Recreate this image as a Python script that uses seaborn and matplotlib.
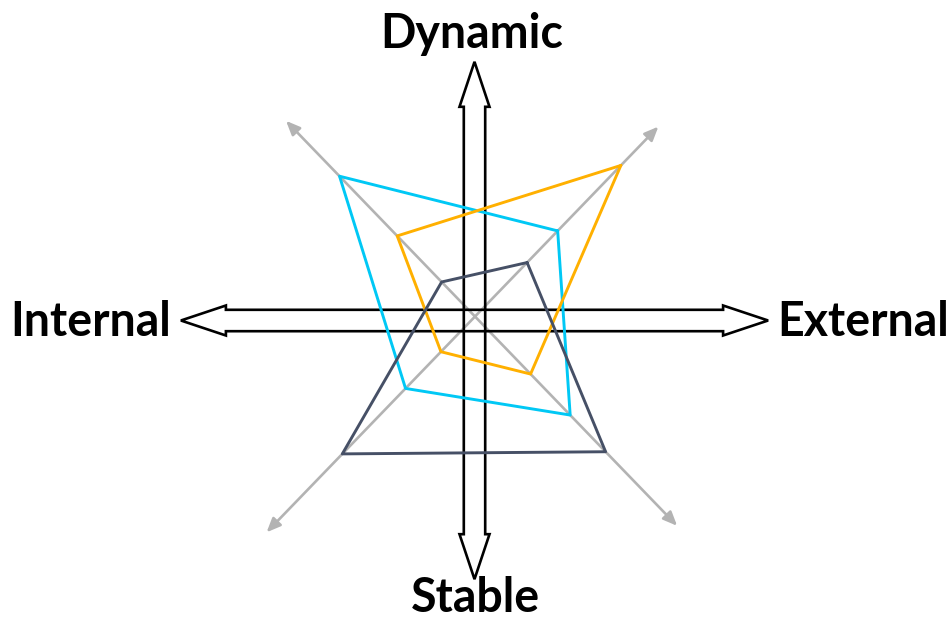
import numpy as np
import pandas as pd
import seaborn as sns
from matplotlib import pyplot as plt
from matplotlib.patches import Polygon

# axis directions (degrees) for the four diagonal spokes: UR, UL, LL, LR
spoke_angles = [46, 134, 226, 314]
spoke_lengths = [264, 272, 300, 291]

# radial values, same spoke order
series_names = ["Cyan", "Orange", "Slate"]
cyan_vals = [119, 195, 100, 137]
orange_vals = [210, 112, 49, 80]
slate_vals = [75, 48, 191, 188]
palette = {"Cyan": "#00c8f5", "Orange": "#ffb000", "Slate": "#465066"}

rows = []
for name, vals in zip(series_names, [cyan_vals, orange_vals, slate_vals]):
    for i, (ang, r) in enumerate(zip(spoke_angles + spoke_angles[:1], vals + vals[:1])):
        t = np.deg2rad(ang)
        rows.append({"series": name, "order": i, "x": r * np.cos(t), "y": r * np.sin(t)})
df = pd.DataFrame(rows)

sns.set_theme(style="white")
plt.rcParams['font.family'] = ['Lato', 'DejaVu Sans']

fig = plt.figure(figsize=(9.53, 6.23), dpi=100)
ax = fig.add_axes([0, 0, 1, 1])
ax.set_xlim(-475, 478)
ax.set_ylim(-306.5, 316.5)
ax.set_aspect('equal')
ax.axis('off')

# gray diagonal spokes
for ang, length in zip(spoke_angles, spoke_lengths):
    t = np.deg2rad(ang)
    ax.annotate("", xy=(length * np.cos(t), length * np.sin(t)), xytext=(0, 0),
                arrowprops=dict(arrowstyle="-|>,head_length=0.7,head_width=0.3",
                                color="#b3b3b3", lw=1.9, shrinkA=0, shrinkB=0),
                zorder=1)


def double_arrow(cx, cy, half_len, horizontal, shaft=10.7, head=15, head_len=45):
    # outline of a hollow double-headed block arrow
    pts = [(-half_len, 0), (-half_len + head_len, head), (-half_len + head_len, shaft),
           (half_len - head_len, shaft), (half_len - head_len, head), (half_len, 0),
           (half_len - head_len, -head), (half_len - head_len, -shaft),
           (-half_len + head_len, -shaft), (-half_len + head_len, -head)]
    if horizontal:
        pts = [(cx + a, cy + b) for a, b in pts]
    else:
        pts = [(cx + b, cy + a) for a, b in pts]
    ax.add_patch(Polygon(pts, closed=True, fill=False, edgecolor="black",
                         lw=1.9, joinstyle="miter", zorder=2))


double_arrow(-0.5, -4, 293.6, True)
double_arrow(-0.5, -4, 258.7, False)

sns.lineplot(data=df, x="x", y="y", hue="series", palette=palette, sort=False,
             estimator=None, units="series", lw=2.1, legend=False, ax=ax, zorder=3)

font = dict(fontsize=33.5, fontweight="bold", color="black")
ax.text(-3, 283, "Dynamic", ha="center", va="center", **font)
ax.text(0, -303, "Stable", ha="center", va="bottom", **font)
ax.text(-304, -5, "Internal", ha="right", va="center", **font)
ax.text(302, -5, "External", ha="left", va="center", **font)

plt.savefig("out.png", dpi=100)
plt.close()
